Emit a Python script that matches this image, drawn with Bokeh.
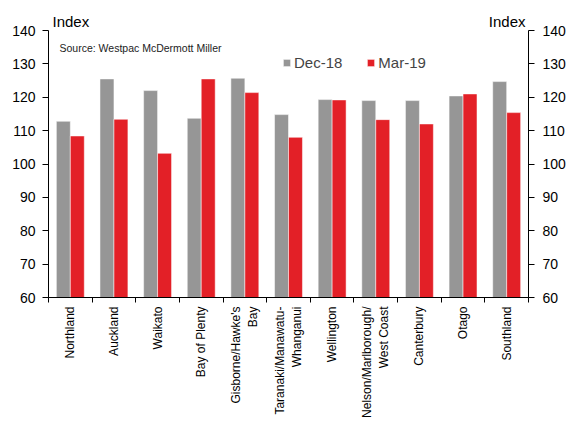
import math
from bokeh.plotting import figure
from bokeh.models import (LinearAxis, FixedTicker, Range1d, Legend, LegendItem,
                          Label, ColumnDataSource)
from bokeh.embed import file_html
from bokeh.resources import INLINE

# Regional consumer confidence index (Westpac McDermott Miller)
regions = ["Northland", "Auckland", "Waikato", "Bay of Plenty",
           "Gisborne/Hawke's\nBay", "Taranaki/Manawatu-\nWhanganui", "Wellington",
           "Nelson/Marlborough/\nWest Coast", "Canterbury", "Otago", "Southland"]
dec18 = [112.8, 125.5, 122.0, 113.7, 125.7, 114.8, 119.3, 119.0, 119.0, 120.4, 124.7]
mar19 = [108.4, 113.4, 103.2, 125.5, 121.4, 108.0, 119.2, 113.3, 112.0, 121.0, 115.4]
y_ticks = [60, 70, 80, 90, 100, 110, 120, 130, 140]

FONT = "Liberation Sans"
GREY = "#969696"
RED = "#E32027"

n = len(regions)
y_lo, y_hi = y_ticks[0], y_ticks[-1]
centers = [i + 0.5 for i in range(n)]
bar_w = 0.32
src = ColumnDataSource(dict(
    xg=[c - bar_w / 2 for c in centers],
    xr=[c + bar_w / 2 for c in centers],
    dec=dec18, mar=mar19,
))

# The frame reaches a little above the top tick so the headings sit inside it;
# the axes themselves are bounded to the tick range.
p = figure(width=581, height=424, output_backend="svg", toolbar_location=None,
           x_range=Range1d(0, n), y_range=Range1d(y_lo, y_hi + 6),
           min_border_left=48, min_border_right=53, min_border_top=10,
           min_border_bottom=127, y_axis_location=None, x_axis_location=None)
p.outline_line_color = None
p.xgrid.visible = False
p.ygrid.visible = False
p.background_fill_color = "white"
p.border_fill_color = "white"

rg = p.vbar(x="xg", top="dec", bottom=y_lo, width=bar_w, source=src,
            fill_color=GREY, line_color="white", line_alpha=0.5, line_width=1)
rr = p.vbar(x="xr", top="mar", bottom=y_lo, width=bar_w, source=src,
            fill_color=RED, line_color="white", line_alpha=0.5, line_width=1)


def style_y(ax, standoff):
    ax.ticker = FixedTicker(ticks=y_ticks, minor_ticks=[])
    ax.bounds = (y_lo, y_hi)
    ax.major_label_text_font = FONT
    ax.major_label_text_font_size = "14px"
    ax.major_label_text_color = "black"
    ax.major_tick_in = 0
    ax.major_tick_out = 6
    ax.minor_tick_line_color = None
    ax.axis_line_color = "black"
    ax.major_tick_line_color = "black"
    ax.major_label_standoff = standoff


left = LinearAxis()
style_y(left, 7)
p.add_layout(left, "left")
right = LinearAxis()
style_y(right, 8)
p.add_layout(right, "right")

# Region names at the bar-group centres, tick marks between the groups
bottom = LinearAxis()
bottom.ticker = FixedTicker(ticks=centers, minor_ticks=list(range(n + 1)))
bottom.major_label_overrides = {c: r for c, r in zip(centers, regions)}
bottom.major_label_orientation = math.pi / 2
bottom.major_label_text_font = FONT
bottom.major_label_text_font_size = "12px"
bottom.major_label_text_color = "black"
bottom.major_label_standoff = 3
bottom.major_tick_line_color = None
bottom.minor_tick_in = 0
bottom.minor_tick_out = 5
bottom.minor_tick_line_color = "black"
bottom.axis_line_color = "black"
p.add_layout(bottom, "below")

legend = Legend(items=[LegendItem(label="Dec-18", renderers=[rg]),
                       LegendItem(label="Mar-19", renderers=[rr])],
                orientation="horizontal", location=(234, 226),
                glyph_width=9, glyph_height=9, label_standoff=3, spacing=24,
                padding=0, margin=0, border_line_color=None,
                background_fill_alpha=0,
                label_text_font=FONT, label_text_font_size="15px")
p.add_layout(legend)

for txt, xv, xo, align in [("Index", 0, 4, "left"), ("Index", n, -3, "right")]:
    p.add_layout(Label(x=xv, y=y_hi, x_offset=xo, y_offset=9, text=txt,
                       text_align=align, text_baseline="alphabetic",
                       text_font=FONT, text_font_size="15px", text_color="black"))

p.add_layout(Label(x=0, y=y_hi, x_offset=11, y_offset=-17,
                   text="Source: Westpac McDermott Miller",
                   text_baseline="alphabetic", text_font=FONT,
                   text_font_size="10.5px", text_color="#222222"))

open("out.html", "w").write(file_html(p, INLINE))
